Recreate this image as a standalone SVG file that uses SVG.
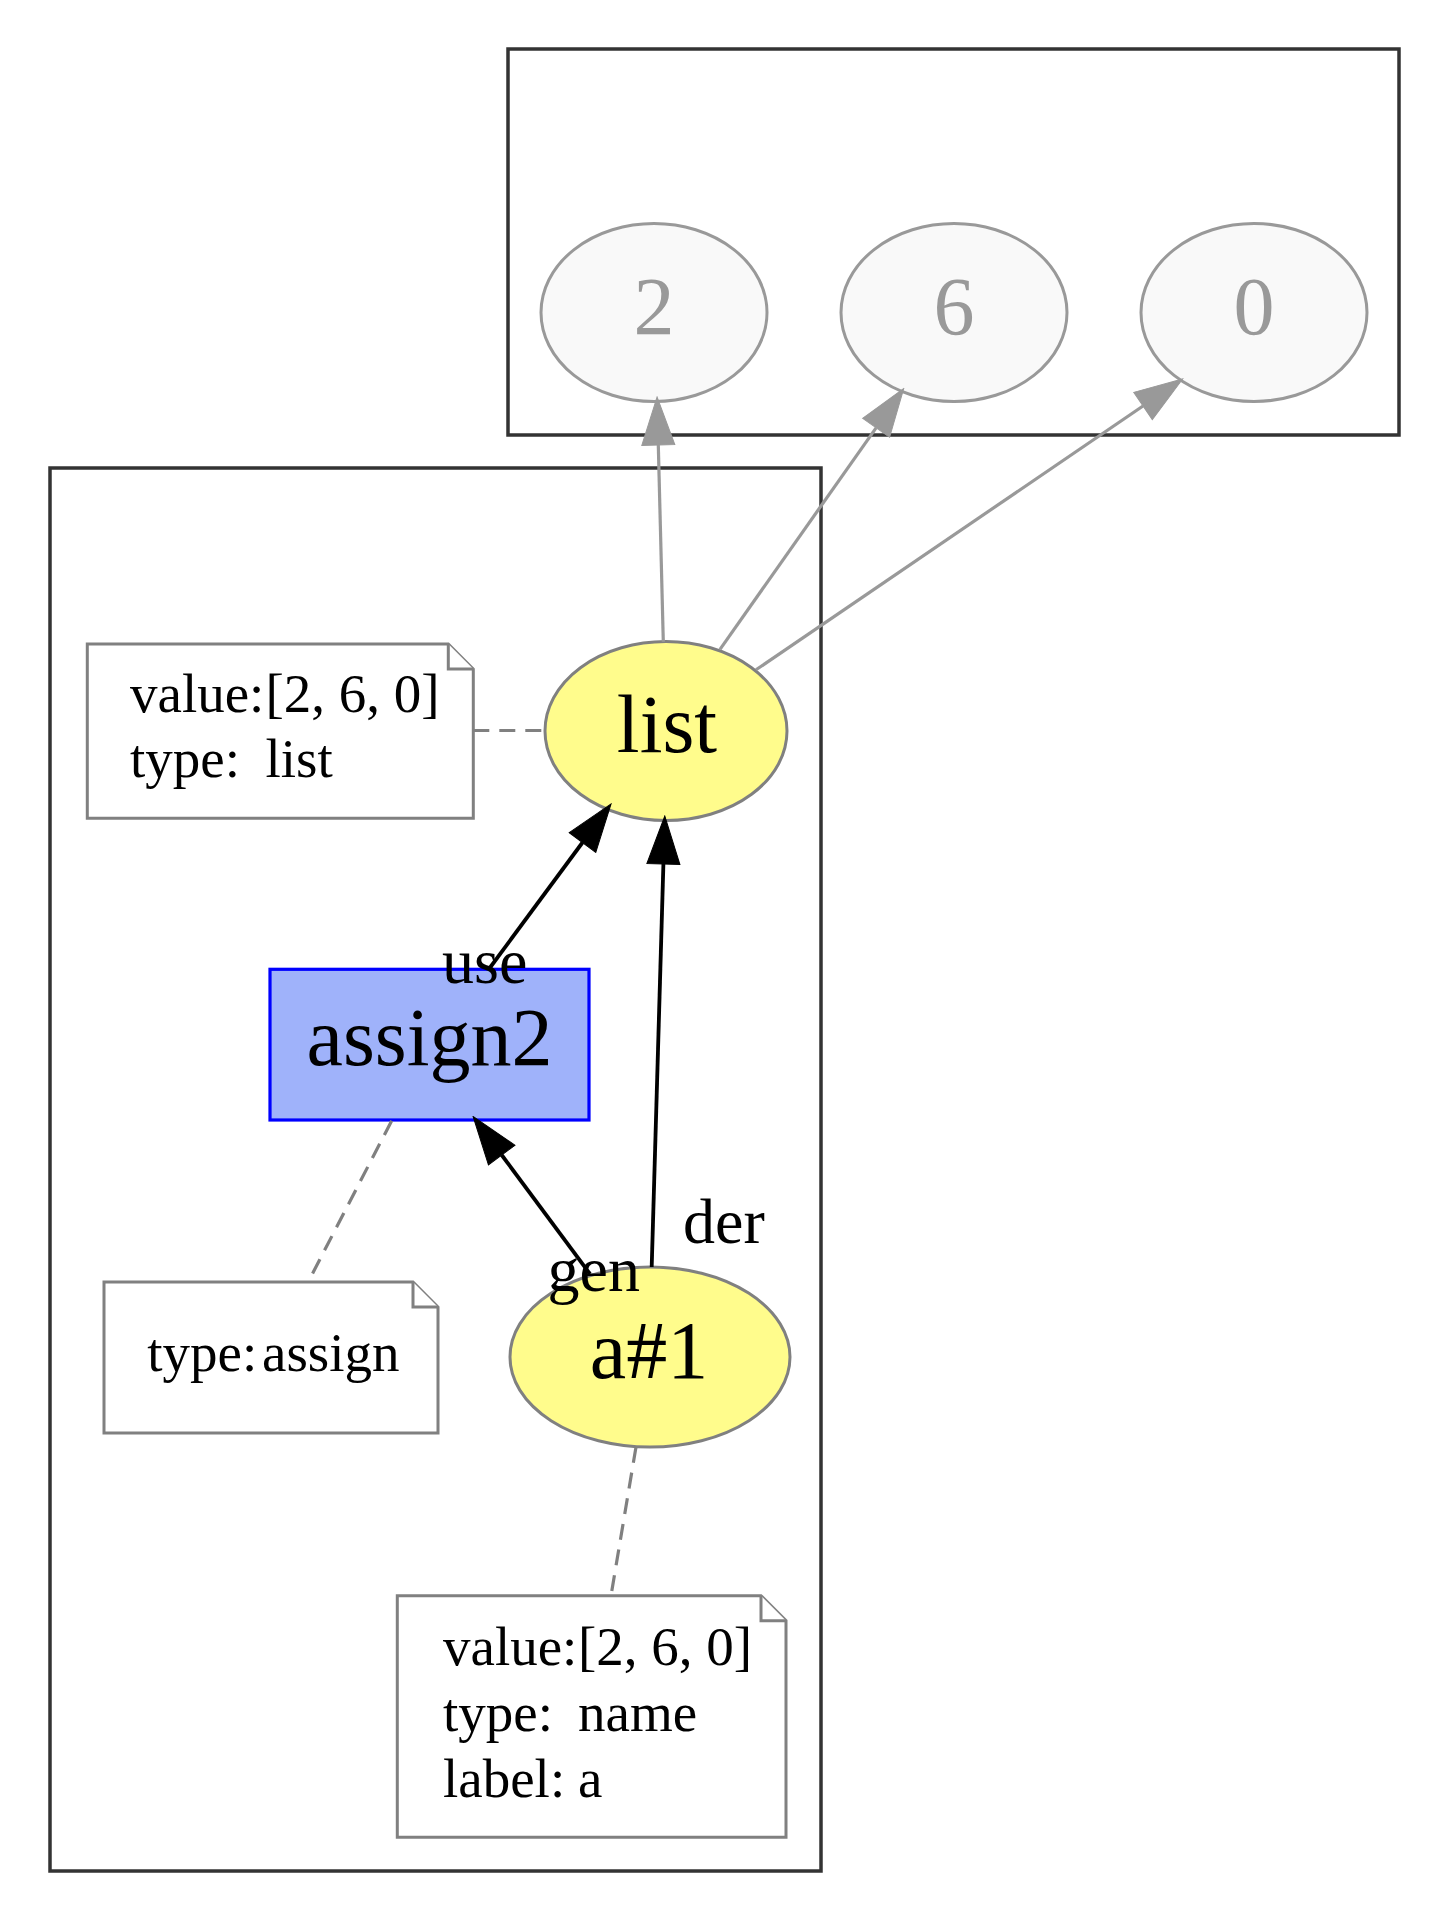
<svg xmlns="http://www.w3.org/2000/svg" width="1450" height="1921" viewBox="0 0 1450 1921">
<style>
text{font-family:"Liberation Serif","Times New Roman",serif}
.cluster{fill:none;stroke:#333333;stroke-width:3.5}
.lit ellipse{fill:#f9f9f9;stroke:#999999;stroke-width:3}
.lit text{fill:#999999;font-size:82px;text-anchor:middle}
.var ellipse{fill:#fffc8c;stroke:#808080;stroke-width:3}
.op rect{fill:#9fb2fa;stroke:#0000ff;stroke-width:3.2}
.lbl{font-size:82px;text-anchor:middle;fill:#000000}
.note path{fill:#ffffff;stroke:#808080;stroke-width:3}
.note text{font-size:55px;fill:#000000}
.gedge{fill:none;stroke:#999999;stroke-width:3.2}
.bedge{fill:none;stroke:#000000;stroke-width:3.8}
.dash{fill:none;stroke:#808080;stroke-width:3.2;stroke-dasharray:16 10}
.elabel{font-size:64px;fill:#000000}
</style>
<defs>
<marker id="ag" markerUnits="userSpaceOnUse" markerWidth="50" markerHeight="36" viewBox="-1 -1 50 36" refX="0" refY="17" orient="auto">
<path d="M0,0.5 L48,17 L0,33.5 Z" fill="#999999" stroke="#999999" stroke-width="1"/>
</marker>
<marker id="ab" markerUnits="userSpaceOnUse" markerWidth="50" markerHeight="36" viewBox="-1 -1 50 36" refX="0" refY="17" orient="auto">
<path d="M0,0.5 L48,17 L0,33.5 Z" fill="#000000" stroke="#000000" stroke-width="1"/>
</marker>
</defs>
<rect width="1450" height="1921" fill="#ffffff"/>
<g id="cluster_values">
<rect class="cluster" x="508" y="49" width="891" height="386"/>
</g>
<g id="cluster_main">
<rect class="cluster" x="50" y="468" width="771" height="1403"/>
</g>
<g id="node_2" class="lit">
<ellipse cx="654" cy="312.5" rx="113" ry="89"/>
<text x="654" y="333.5">2</text>
</g>
<g id="node_6" class="lit">
<ellipse cx="954" cy="312.5" rx="113" ry="89"/>
<text x="954" y="333.5">6</text>
</g>
<g id="node_0" class="lit">
<ellipse cx="1254" cy="312.5" rx="113" ry="89"/>
<text x="1254" y="333.5">0</text>
</g>
<g id="node_list" class="var">
<ellipse cx="666" cy="731" rx="121" ry="89.5"/>
<text class="lbl" x="667" y="752">list</text>
</g>
<g id="node_assign2" class="op">
<rect x="270" y="969.3" width="319" height="150.7"/>
<text class="lbl" x="429.5" y="1065">assign2</text>
</g>
<g id="node_a1" class="var">
<ellipse cx="650" cy="1357" rx="140" ry="90"/>
<text class="lbl" x="649" y="1378">a#1</text>
</g>
<g id="note_list" class="note">
<path d="M87.3,644 H448.3 L473.3,669 V818.3 H87.3 Z"/>
<path d="M448.3,644 V669 H473.3"/>
<text x="130" y="712">value:</text>
<text x="265.5" y="712">[2, 6, 0]</text>
<text x="130" y="777">type:</text>
<text x="265.5" y="777">list</text>
</g>
<g id="note_assign2" class="note">
<path d="M104,1282 H413 L438,1307 V1433 H104 Z"/>
<path d="M413,1282 V1307 H438"/>
<text x="147.3" y="1371">type:</text>
<text x="262" y="1371">assign</text>
</g>
<g id="note_a1" class="note">
<path d="M397.3,1595.7 H761 L786,1620.7 V1837.3 H397.3 Z"/>
<path d="M761,1595.7 V1620.7 H786"/>
<text x="443" y="1665">value:</text>
<text x="578" y="1665">[2, 6, 0]</text>
<text x="443" y="1731">type:</text>
<text x="578" y="1731">name</text>
<text x="443" y="1797">label:</text>
<text x="578" y="1797">a</text>
</g>
<g id="connectors">
<path class="gedge" d="M663.3,641.7 L658.3,445" marker-end="url(#ag)"/>
<path class="gedge" d="M720,649.3 L876.1,427.8" marker-end="url(#ag)"/>
<path class="gedge" d="M756,669.8 L1143,406" marker-end="url(#ag)"/>
<path class="bedge" d="M489,969 L582.5,842.5" marker-end="url(#ab)"/>
<path class="bedge" d="M651.7,1267 L663.4,864" marker-end="url(#ab)"/>
<path class="bedge" d="M590,1274 L501.7,1155" marker-end="url(#ab)"/>
<path class="dash" d="M473.3,730.5 L545,730.5"/>
<path class="dash" d="M391.7,1120.7 L308.3,1281.7"/>
<path class="dash" d="M636,1447 L611,1595.7"/>
<text class="elabel" x="442" y="983">use</text>
<text class="elabel" x="683" y="1243">der</text>
<text class="elabel" x="547.5" y="1291">gen</text>
</g>
</svg>
